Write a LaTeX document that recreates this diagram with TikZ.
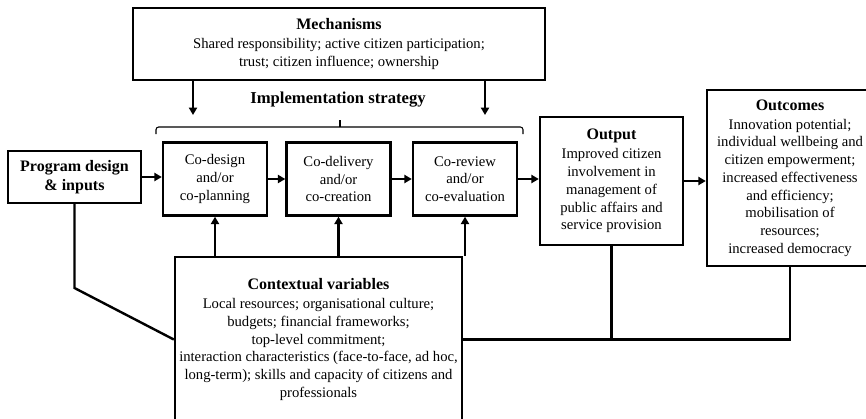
\documentclass[tikz,border=0pt]{standalone}
\usepackage{fontspec}
\setmainfont{Liberation Serif}
\usetikzlibrary{arrows.meta}

\tikzset{
    box/.style={draw, line width=1.8pt, align=center, inner sep=2pt,
        font=\fontsize{11}{13.3}\selectfont},
    cobox/.style={box, minimum width=78pt, minimum height=54.75pt},
    link/.style={line width=1.8pt},
}
\newcommand{\heading}[1]{{\bfseries\fontsize{12}{14}\selectfont #1}}

\begin{document}
\begin{tikzpicture}[x=0.75pt, y=-0.75pt, >={Triangle[length=5.5pt,width=6pt]}]
    \useasboundingbox (0,0) rectangle (866,418);
    \clip (0,0) rectangle (866,418);

    % Mechanisms on top
    \node[box, minimum width=309pt, minimum height=54pt] (mech) at (339,44)
        {\heading{Mechanisms}\\[1pt]
         Shared responsibility; active citizen participation;\\
         trust; citizen influence; ownership};
    \coordinate (m1) at (193,115);
    \coordinate (m2) at (485,115);
    \draw[link, ->] (mech.south -| m1) -- (m1);
    \draw[link, ->] (mech.south -| m2) -- (m2);

    % Implementation strategy and its bracket
    \node[font=\bfseries\fontsize{12.5}{14}\selectfont] (impl) at (338,100) {Implementation strategy};
    \draw[line width=0.8pt, rounded corners=2pt] (156,134) -- (156,127) -- (523,127) -- (523,134);
    \draw[line width=0.8pt] (340,127) -- (340,120);

    % Main chain
    \node[box, minimum width=99.75pt, minimum height=39pt] (prog) at (74.5,177)
        {\heading{Program design}\\[1pt] \heading{\& inputs}};
    \node[cobox] (codes) at (215,179) {Co-design\\ and/or\\ co-planning};
    \node[cobox] (codel) at (338.5,179) {Co-delivery\\ and/or\\ co-creation};
    \node[cobox] (corev) at (465,179) {Co-review\\ and/or\\ co-evaluation};
    \node[box, minimum width=107.25pt, minimum height=96pt] (output) at (611.5,181)
        {\heading{Output}\\[1pt]
         Improved citizen\\ involvement in\\ management of\\
         public affairs and\\ service provision};
    \node[box, minimum width=124.5pt, minimum height=132pt] (outcomes) at (790,178)
        {\heading{Outcomes}\\[1pt]
         Innovation potential;\\ individual wellbeing and\\ citizen empowerment;\\
         increased effectiveness\\ and efficiency;\\ mobilisation of\\
         resources;\\ increased democracy};

    \draw[link, ->] (prog.east) -- (prog.east -| codes.west);
    \draw[link, ->] (codes.east) -- (codel.west);
    \draw[link, ->] (codel.east) -- (corev.west);
    \draw[link, ->] (corev.east) -- (corev.east -| output.west);
    \draw[link, ->] (output.east) -- (output.east -| outcomes.west);

    % Contextual variables below
    \node[box, minimum width=215.25pt, minimum height=123.75pt] (context) at (318.5,339.5)
        {\heading{Contextual variables}\\[1pt]
         Local resources; organisational culture;\\
         budgets; financial frameworks;\\
         top-level commitment;\\
         interaction characteristics (face-to-face, ad hoc,\\
         long-term); skills and capacity of citizens and\\
         professionals};
    \foreach \b in {codes, codel, corev}
        \draw[link, ->] (context.north -| \b.south) -- (\b.south);

    % Feedback lines
    \coordinate (kink) at (74.5,288);
    \draw[link] (prog.south) -- (kink) -- (context.west);
    \draw[link] (context.east) -| (outcomes.south);
    \draw[link] (output.south) -- (output.south |- context.east);
\end{tikzpicture}
\end{document}
